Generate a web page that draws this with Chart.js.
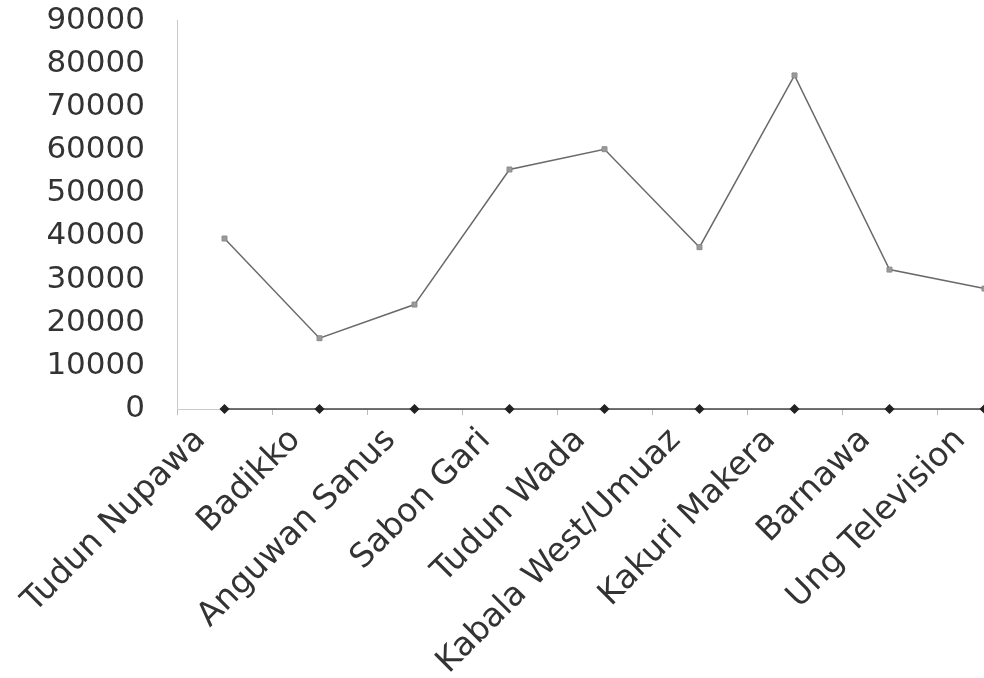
<!DOCTYPE html>
<html lang="en">
<head>
  <meta charset="UTF-8">
  <title>Population by area</title>
  <script src="https://cdn.jsdelivr.net/npm/chart.js"></script>
  <style>
    html, body {
      margin: 0;
      padding: 0;
      background: #fff;
      overflow: hidden;
    }

    #chart-container {
      width: 1040px;
      height: 678px;
    }
  </style>
</head>
<body>

<div id="chart-container">
  <canvas id="chart" width="1040" height="678"></canvas>
</div>

<script>
  // data
  const areas = ['Tudun Nupawa', 'Badikko', 'Anguwan Sanus', 'Sabon Gari', 'Tudun Wada',
                 'Kabala West/Umuaz', 'Kakuri Makera', 'Barnawa', 'Ung Television'];
  const population = [39500, 16400, 24200, 55500, 60200, 37500, 77300, 32300, 27900];
  const baseline = [0, 0, 0, 0, 0, 0, 0, 0, 0];
  const yTicks = { min: 0, max: 90000, step: 10000 };

  const ctx = document.getElementById('chart').getContext('2d');
  new Chart(ctx, {
    type: 'line',
    data: {
      labels: areas,
      datasets: [{
        label: 'Population',
        data: population,
        borderColor: '#6a6a6a',
        borderWidth: 1.5,
        pointStyle: 'rect',
        pointRadius: 3.5,
        pointBackgroundColor: '#9a9a9a',
        pointBorderColor: '#8a8a8a',
        pointBorderWidth: 1,
        tension: 0
      }, {
        label: 'Series 2',
        data: baseline,
        clip: false,
        borderColor: '#444',
        borderWidth: 1.5,
        pointStyle: 'rectRot',
        pointRadius: 4,
        pointBackgroundColor: '#222',
        pointBorderColor: '#222',
        tension: 0
      }]
    },
    options: {
      responsive: false,
      animation: false,
      devicePixelRatio: 1,
      layout: { padding: { top: 0, right: 8, left: 0, bottom: 0 } },
      plugins: {
        legend: { display: false },
        tooltip: { enabled: false }
      },
      scales: {
        x: {
          offset: true,
          grid: {
            offset: true,
            drawOnChartArea: false,
            drawTicks: true,
            tickLength: 6,
            color: '#bbb'
          },
          border: { display: true, color: '#ccc', dash: [3, 3] },
          ticks: {
            font: { family: "'DejaVu Sans', sans-serif", size: 33 },
            color: '#333',
            minRotation: 45,
            maxRotation: 45,
            autoSkip: false,
            padding: 6,
            labelOffset: -24
          },
          afterFit: (scale) => { scale.height = 269; }
        },
        y: {
          min: yTicks.min,
          max: yTicks.max,
          // tick marks hidden, but their length keeps the gap next to the axis
          grid: { display: false, drawTicks: true, tickLength: 30 },
          border: { display: true, color: '#c8c8c8', dash: [4, 4] },
          ticks: {
            stepSize: yTicks.step,
            autoSkip: false,
            font: { family: "'DejaVu Sans', sans-serif", size: 31 },
            color: '#333',
            padding: 2,
            callback: (v) => String(v)
          },
          afterFit: (scale) => { scale.width = 177; }
        }
      }
    }
  });
</script>

</body>
</html>
